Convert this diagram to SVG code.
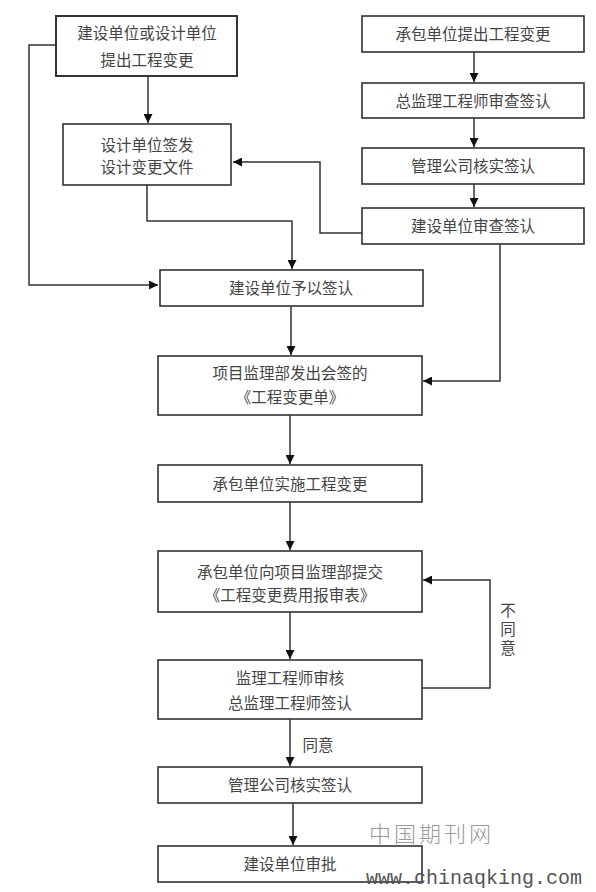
<svg xmlns="http://www.w3.org/2000/svg" width="596" height="892" viewBox="0 0 596 892">
<style>
.box{fill:#fff;stroke:#333;stroke-width:1.6}
.t{font-family:"Liberation Serif","Noto Sans CJK SC",serif;font-size:15.5px;fill:#444;text-anchor:middle;dominant-baseline:central}
.c{fill:none;stroke:#333;stroke-width:1.5}
.wm{font-family:"Noto Sans CJK SC",sans-serif;font-size:22px;fill:#999;font-weight:300;letter-spacing:3px}
.wm2{font-family:"Liberation Mono",monospace;font-size:20px;fill:#555}
</style>
<defs>
<marker id="ah" viewBox="0 0 10 10" refX="10" refY="5" markerWidth="9" markerHeight="9" markerUnits="userSpaceOnUse" orient="auto">
<path d="M0,0 L10,5 L0,10 z" fill="#111"/>
</marker>
</defs>
<rect width="596" height="892" fill="#fff"/>
<g id="connectors">
<path class="c" d="M148,77 V123" marker-end="url(#ah)"/>
<path class="c" d="M56,45 H29 V285 H158" marker-end="url(#ah)"/>
<path class="c" d="M147,185 V221 H292 V269" marker-end="url(#ah)"/>
<path class="c" d="M474,52 V82" marker-end="url(#ah)"/>
<path class="c" d="M474,118 V147" marker-end="url(#ah)"/>
<path class="c" d="M474,184 V207" marker-end="url(#ah)"/>
<path class="c" d="M362,233 H320 V162 H233" marker-end="url(#ah)"/>
<path class="c" d="M500,244 V381 H423" marker-end="url(#ah)"/>
<path class="c" d="M291,306 V355" marker-end="url(#ah)"/>
<path class="c" d="M290,415 V464" marker-end="url(#ah)"/>
<path class="c" d="M290,502 V550" marker-end="url(#ah)"/>
<path class="c" d="M290,612 V659" marker-end="url(#ah)"/>
<path class="c" d="M422,688 H490 V580 H423" marker-end="url(#ah)"/>
<path class="c" d="M290,719 V766" marker-end="url(#ah)"/>
<path class="c" d="M293,803 V845" marker-end="url(#ah)"/>
<text class="t" x="508" y="610">不</text>
<text class="t" x="508" y="629">同</text>
<text class="t" x="508" y="648">意</text>
<text class="t" x="318" y="745">同意</text>
</g>
<g id="n1"><rect class="box" x="56" y="16" width="181" height="60" style="stroke-width:2"/><text class="t" x="147" y="33">建设单位或设计单位</text><text class="t" x="147" y="60">提出工程变更</text></g>
<g id="n2"><rect class="box" x="63" y="124" width="168" height="61"/><text class="t" x="147" y="145">设计单位签发</text><text class="t" x="147" y="167">设计变更文件</text></g>
<g id="r1"><rect class="box" x="362" y="16" width="222" height="36"/><text class="t" x="473" y="34">承包单位提出工程变更</text></g>
<g id="r2"><rect class="box" x="362" y="83" width="222" height="35"/><text class="t" x="473" y="101">总监理工程师审查签认</text></g>
<g id="r3"><rect class="box" x="362" y="148" width="222" height="36"/><text class="t" x="473" y="166">管理公司核实签认</text></g>
<g id="r4"><rect class="box" x="362" y="208" width="222" height="36"/><text class="t" x="473" y="226">建设单位审查签认</text></g>
<g id="n3"><rect class="box" x="160" y="270" width="263" height="36"/><text class="t" x="291" y="288">建设单位予以签认</text></g>
<g id="n4"><rect class="box" x="158" y="356" width="264" height="59"/><text class="t" x="290" y="373">项目监理部发出会签的</text><text class="t" x="290" y="397">《工程变更单》</text></g>
<g id="n5"><rect class="box" x="158" y="465" width="264" height="37"/><text class="t" x="290" y="484">承包单位实施工程变更</text></g>
<g id="n6"><rect class="box" x="158" y="551" width="264" height="61"/><text class="t" x="290" y="572">承包单位向项目监理部提交</text><text class="t" x="290" y="595">《工程变更费用报审表》</text></g>
<g id="n7"><rect class="box" x="158" y="660" width="264" height="59"/><text class="t" x="290" y="678">监理工程师审核</text><text class="t" x="290" y="703">总监理工程师签认</text></g>
<g id="n8"><rect class="box" x="158" y="767" width="264" height="36"/><text class="t" x="290" y="785">管理公司核实签认</text></g>
<g id="n9"><rect class="box" x="158" y="846" width="264" height="36"/><text class="t" x="290" y="864">建设单位审批</text></g>
<text class="wm" x="369" y="842">中国期刊网</text>
<text class="wm2" x="366" y="884">www.chinaqking.com</text>
</svg>
